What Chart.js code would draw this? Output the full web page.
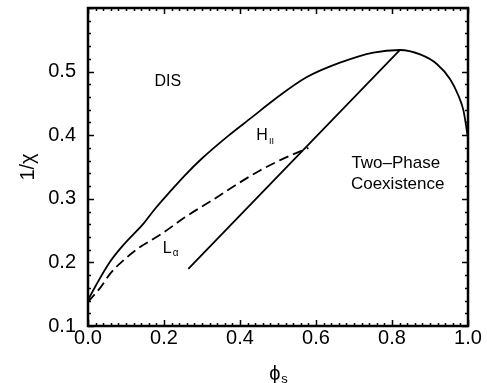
<!DOCTYPE html>
<html>
<head>
<meta charset="utf-8">
<script src="https://cdn.jsdelivr.net/npm/chart.js@4"></script>
<style>
  body { margin: 0; background: #fff; }
</style>
</head>
<body>
<canvas id="phaseChart" width="487" height="383"></canvas>
<script>
// DIS boundary (solid curve)
const boundaryPhi = [0, 0.02, 0.058, 0.097, 0.146, 0.176, 0.22, 0.255, 0.299, 0.369, 0.431, 0.488, 0.575, 0.663, 0.751, 0.821, 0.874, 0.918, 0.953, 0.975, 0.988, 0.997, 1.0];
const boundaryChi = [0.141, 0.163, 0.201, 0.230, 0.261, 0.284, 0.314, 0.337, 0.363, 0.399, 0.428, 0.455, 0.491, 0.514, 0.530, 0.534, 0.527, 0.512, 0.488, 0.462, 0.439, 0.407, 0.395];

// Lα / HII transition (dashed curve)
const dashedPhi = [0, 0.032, 0.058, 0.08, 0.132, 0.194, 0.255, 0.325, 0.387, 0.448, 0.51, 0.58];
const dashedChi = [0.138, 0.160, 0.182, 0.196, 0.222, 0.245, 0.271, 0.297, 0.321, 0.343, 0.362, 0.380];

// coexistence edge (straight line)
const edgePhi = [0.264, 0.821];
const edgeChi = [0.190, 0.534];

const xTickValues = [0, 0.2, 0.4, 0.6, 0.8, 1.0];
const yTickValues = [0.1, 0.2, 0.3, 0.4, 0.5];

const FONT = "'Liberation Sans', Arial, Helvetica, sans-serif";

function pairUp(xs, ys) {
    return xs.map((x, i) => ({ x: x, y: ys[i] }));
}

function drawWithSub(ctx, main, sub, x, y, mainSize, subSize, drop, align) {
    ctx.font = `${mainSize}px ${FONT}`;
    const w1 = ctx.measureText(main).width;
    ctx.font = `${subSize}px ${FONT}`;
    const w2 = ctx.measureText(sub).width;
    let left = x;
    if (align === 'center') left = x - (w1 + w2) / 2;
    ctx.textAlign = 'left';
    ctx.font = `${mainSize}px ${FONT}`;
    ctx.fillText(main, left, y);
    ctx.font = `${subSize}px ${FONT}`;
    ctx.fillText(sub, left + w1 + 1, y + drop);
}

const frameAndLabels = {
    id: 'frameAndLabels',
    afterDraw(chart) {
        const ctx = chart.ctx;
        const a = chart.chartArea;
        const xs = chart.scales.x, ys = chart.scales.y;
        ctx.save();
        ctx.strokeStyle = '#000';

        // inward tick marks on all four sides
        ctx.lineWidth = 1.5;
        ctx.beginPath();
        for (let i = 0; i <= 50; i++) {
            const px = Math.round(xs.getPixelForValue(i * 0.02)) + 0.5;
            const len = i % 10 === 0 ? 6 : 3;
            ctx.moveTo(px, a.bottom); ctx.lineTo(px, a.bottom - len);
            ctx.moveTo(px, a.top); ctx.lineTo(px, a.top + len);
        }
        for (let i = 0; i <= 25; i++) {
            const py = Math.round(ys.getPixelForValue(0.1 + i * 0.02)) + 0.5;
            const len = i % 5 === 0 ? 6 : 3;
            ctx.moveTo(a.left, py); ctx.lineTo(a.left + len, py);
            ctx.moveTo(a.right, py); ctx.lineTo(a.right - len, py);
        }
        ctx.stroke();

        ctx.lineWidth = 2.5;
        ctx.strokeRect(a.left, a.top, a.right - a.left, a.bottom - a.top);

        // region labels
        ctx.fillStyle = '#000';
        ctx.textBaseline = 'alphabetic';
        ctx.font = `16px ${FONT}`;
        ctx.textAlign = 'center';
        ctx.fillText('DIS', xs.getPixelForValue(0.21), ys.getPixelForValue(0.478));
        ctx.font = `17px ${FONT}`;
        ctx.fillText('Two\u2013Phase', xs.getPixelForValue(0.81), ys.getPixelForValue(0.348));
        ctx.fillText('Coexistence', xs.getPixelForValue(0.815), ys.getPixelForValue(0.316));
        drawWithSub(ctx, 'H', 'II', xs.getPixelForValue(0.443), ys.getPixelForValue(0.393), 16, 9, 4, 'left');
        drawWithSub(ctx, 'L', '\u03b1', xs.getPixelForValue(0.197), ys.getPixelForValue(0.214), 16, 10, 3, 'left');

        // axis titles
        drawWithSub(ctx, '\u03d5', 's', (a.left + a.right) / 2, 380, 20, 13, 3, 'center');
        ctx.save();
        ctx.translate(34, (a.top + a.bottom) / 2);
        ctx.rotate(-Math.PI / 2);
        ctx.textAlign = 'center';
        ctx.font = `20px ${FONT}`;
        ctx.fillText('1/\u03c7', 0, 0);
        ctx.restore();

        ctx.restore();
    }
};

const lineStyle = {
    showLine: true,
    borderColor: '#000',
    borderWidth: 1.8,
    pointRadius: 0,
    fill: false,
    cubicInterpolationMode: 'monotone'
};

new Chart(
    document.getElementById('phaseChart'),
    {
        type: 'scatter',
        data: {
            datasets: [
                Object.assign({ label: 'DIS boundary', data: pairUp(boundaryPhi, boundaryChi) }, lineStyle),
                Object.assign({ label: 'Lα–HII', data: pairUp(dashedPhi, dashedChi), borderDash: [10, 5] }, lineStyle),
                Object.assign({ label: 'edge', data: pairUp(edgePhi, edgeChi) }, lineStyle)
            ]
        },
        options: {
            responsive: false,
            animation: false,
            devicePixelRatio: 1,
            layout: { padding: { top: 8, right: 19, left: 0, bottom: 0 } },
            plugins: {
                legend: { display: false },
                tooltip: { enabled: false }
            },
            scales: {
                x: {
                    type: 'linear',
                    min: 0,
                    max: 1,
                    afterBuildTicks: s => { s.ticks = xTickValues.map(v => ({ value: v })); },
                    afterFit: s => { s.height = 57; s.paddingLeft = 0; s.paddingRight = 0; },
                    grid: { display: false, drawTicks: false },
                    border: { display: false },
                    ticks: {
                        color: '#000',
                        padding: 0,
                        maxRotation: 0,
                        font: { family: FONT, size: 20 },
                        callback: v => v.toFixed(1)
                    }
                },
                y: {
                    type: 'linear',
                    min: 0.1,
                    max: 0.6,
                    afterBuildTicks: s => { s.ticks = yTickValues.map(v => ({ value: v })); },
                    afterFit: s => { s.width = 88; s.paddingTop = 0; s.paddingBottom = 0; },
                    grid: { display: false, drawTicks: false },
                    border: { display: false },
                    ticks: {
                        color: '#000',
                        padding: 12,
                        font: { family: FONT, size: 20 },
                        callback: v => v.toFixed(1)
                    }
                }
            }
        },
        plugins: [frameAndLabels]
    }
);
</script>
</body>
</html>
